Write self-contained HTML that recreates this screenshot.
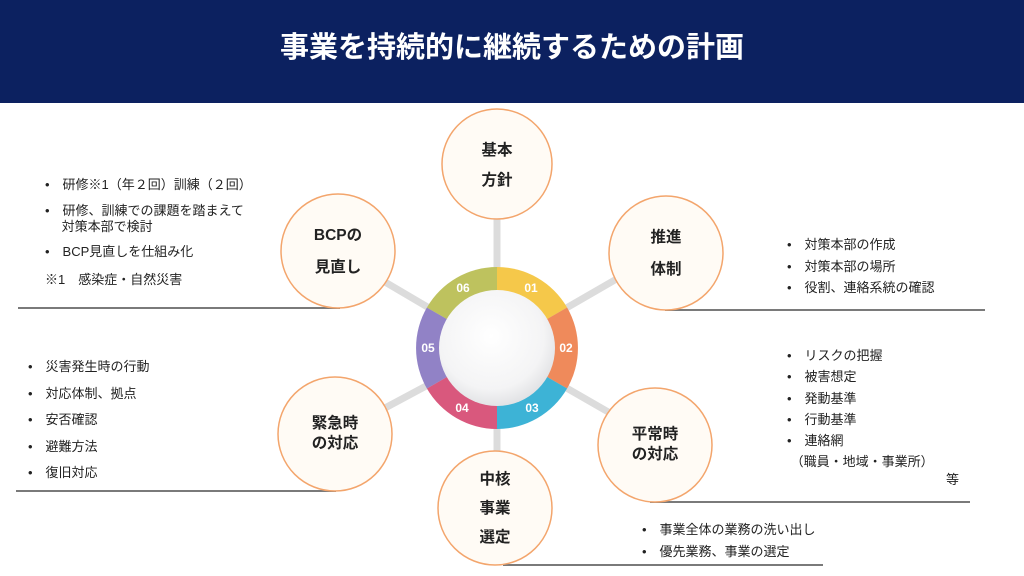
<!DOCTYPE html>
<html><head><meta charset="utf-8"><style>
body{margin:0;width:1024px;height:576px;overflow:hidden;background:#fff;font-family:"Liberation Sans","Noto Sans CJK JP",sans-serif;position:relative}
.hdr{position:absolute;left:0;top:0;width:1024px;height:103px;background:#0c2160;color:#fff;font-weight:bold;font-size:29px;text-align:center;line-height:96px}
.t{position:absolute;font-size:13px;color:#222;white-space:nowrap;line-height:16px}
.c{position:absolute;font-size:15.5px;font-weight:bold;color:#222;text-align:center;white-space:nowrap}
.ln{position:absolute;height:2px;background:#7a7a7a}
</style></head><body>
<div class="hdr">事業を持続的に継続するための計画</div>
<div class="ln" style="left:18px;top:307px;width:322px"></div>
<div class="ln" style="left:665px;top:309px;width:320px"></div>
<div class="ln" style="left:16px;top:490px;width:320px"></div>
<div class="ln" style="left:650px;top:501px;width:320px"></div>
<div class="ln" style="left:503px;top:564px;width:320px"></div>
<svg width="1024" height="576" style="position:absolute;left:0;top:0">
<defs><radialGradient id="g" cx="45%" cy="40%" r="65%"><stop offset="0" stop-color="#fff"/><stop offset="0.7" stop-color="#f4f4f5"/><stop offset="1" stop-color="#dcdde0"/></radialGradient></defs>
<g stroke="#dcdcdc" stroke-width="7" stroke-linecap="round">
<line x1="497" y1="348" x2="497" y2="210"/>
<line x1="497" y1="348" x2="620" y2="277"/>
<line x1="497" y1="348" x2="610" y2="413"/>
<line x1="497" y1="348" x2="497" y2="455"/>
<line x1="497" y1="348" x2="385" y2="408"/>
<line x1="497" y1="348" x2="385" y2="282"/>
</g>
<g transform="translate(497,348)">
<path d="M0,-81 A81 81 0 0 1 70.1,-40.5 L0,0Z" fill="#f5c84a"/>
<path d="M70.1,-40.5 A81 81 0 0 1 70.1,40.5 L0,0Z" fill="#ef8a5b"/>
<path d="M70.1,40.5 A81 81 0 0 1 0,81 L0,0Z" fill="#3db3d6"/>
<path d="M0,81 A81 81 0 0 1 -70.1,40.5 L0,0Z" fill="#d9587d"/>
<path d="M-70.1,40.5 A81 81 0 0 1 -70.1,-40.5 L0,0Z" fill="#9182c6"/>
<path d="M-70.1,-40.5 A81 81 0 0 1 0,-81 L0,0Z" fill="#bec25e"/>
<circle r="58" fill="url(#g)"/>
<g fill="#fff" font-size="12" font-weight="bold" font-family="Liberation Sans,sans-serif" text-anchor="middle">
<text x="34" y="-56">01</text><text x="69" y="4">02</text><text x="35" y="64">03</text>
<text x="-35" y="64">04</text><text x="-69" y="4">05</text><text x="-34" y="-56">06</text></g>
</g>
<g fill="#fffbf5" stroke="#f3a56c" stroke-width="1.5">
<circle cx="497" cy="164" r="55"/>
<circle cx="666" cy="253" r="57"/>
<circle cx="655" cy="445" r="57"/>
<circle cx="495" cy="508" r="57"/>
<circle cx="335" cy="434" r="57"/>
<circle cx="338" cy="251" r="57"/>
</g>
</svg>
<div class="c" style="left:447px;top:136px;width:100px;line-height:30px">基本<br>方針</div>
<div class="c" style="left:616px;top:222px;width:100px;line-height:32px">推進<br>体制</div>
<div class="c" style="left:605px;top:425px;width:100px;line-height:20px">平常時<br>の対応</div>
<div class="c" style="left:445px;top:465px;width:100px;line-height:29px">中核<br>事業<br>選定</div>
<div class="c" style="left:285px;top:414px;width:100px;line-height:20px">緊急時<br>の対応</div>
<div class="c" style="left:288px;top:220px;width:100px;line-height:32px">BCPの<br>見直し</div>
<div class="t" style="left:45px;top:177px">•　研修※1（年２回）訓練（２回）</div>
<div class="t" style="left:45px;top:203px">•　研修、訓練での課題を踏まえて<br>　 対策本部で検討</div>
<div class="t" style="left:45px;top:244px">•　BCP見直しを仕組み化</div>
<div class="t" style="left:45px;top:272px">※1　感染症・自然災害</div>
<div class="t" style="left:787px;top:234px;line-height:21.5px">•　対策本部の作成<br>•　対策本部の場所<br>•　役割、連絡系統の確認</div>
<div class="t" style="left:787px;top:345px;line-height:21.3px">•　リスクの把握<br>•　被害想定<br>•　発動基準<br>•　行動基準<br>•　連絡網<br>&nbsp;（職員・地域・事業所）</div>
<div class="t" style="left:946px;top:472px">等</div>
<div class="t" style="left:28px;top:354px;line-height:26.5px">•　災害発生時の行動<br>•　対応体制、拠点<br>•　安否確認<br>•　避難方法<br>•　復旧対応</div>
<div class="t" style="left:642px;top:519px;line-height:22px">•　事業全体の業務の洗い出し<br>•　優先業務、事業の選定</div>
</body></html>
